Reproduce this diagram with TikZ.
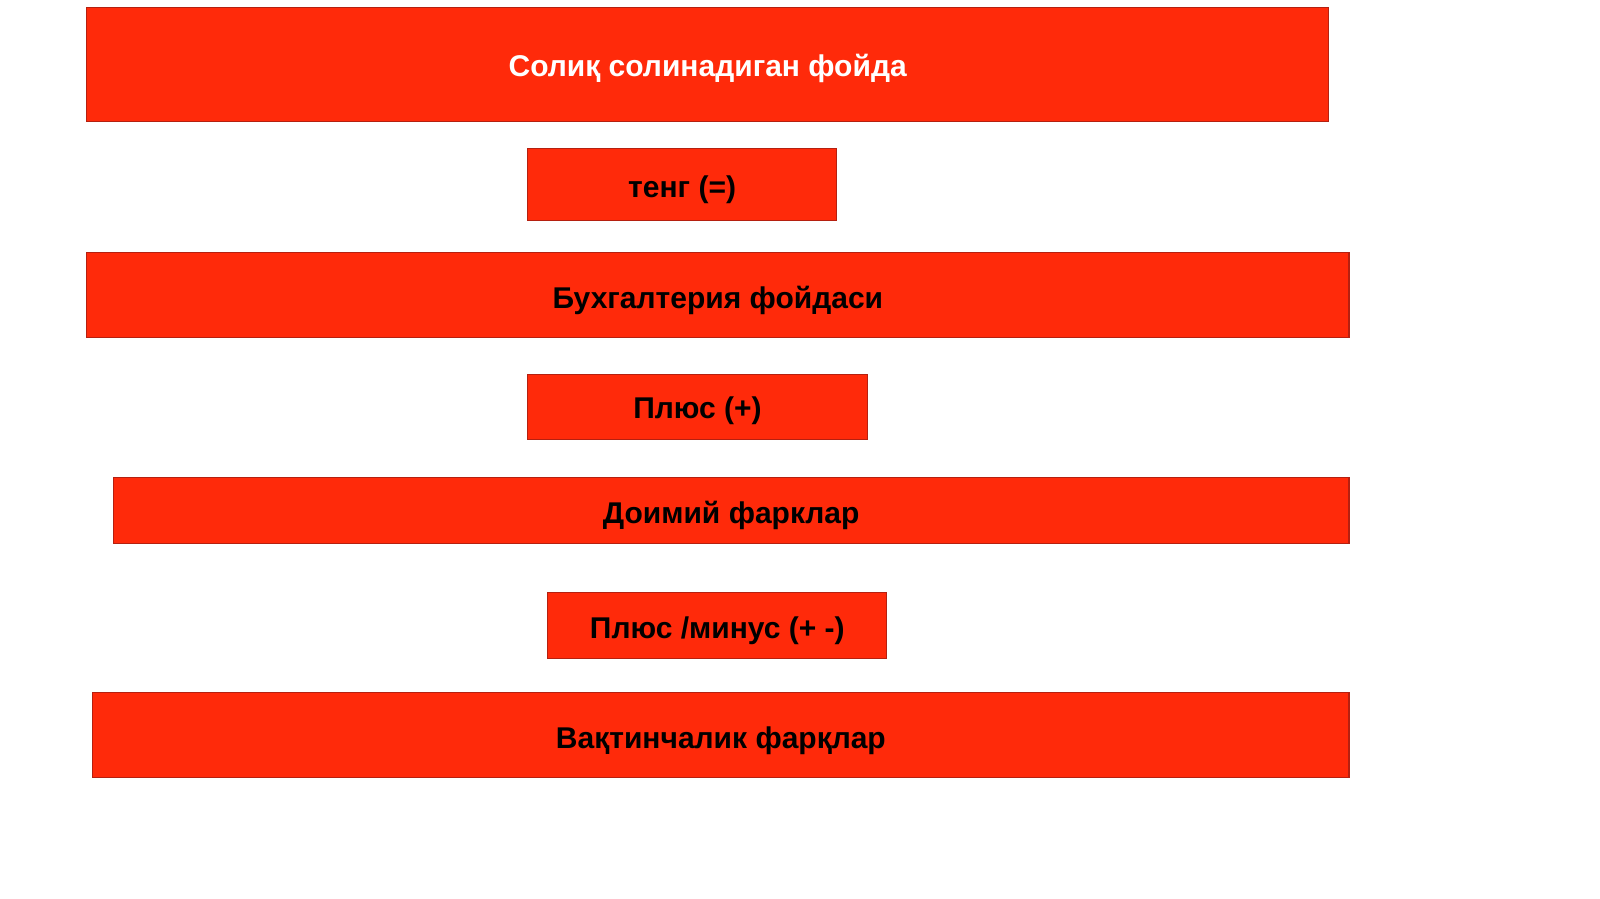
\documentclass[tikz,border=0pt]{standalone}
\usepackage{fontspec}
\setmainfont{Liberation Sans}
\definecolor{boxred}{HTML}{FF2A0A}
\definecolor{boxedge}{HTML}{B52010}
\begin{document}
\begin{tikzpicture}[x=0.5pt,y=-0.5pt,
  bar/.style={fill=boxred,draw=boxedge,line width=0.5pt,inner sep=0pt},
  lbl/.style={font=\fontsize{14.7pt}{17pt}\selectfont\bfseries,inner sep=0pt,text=black},
]
\useasboundingbox[fill=white] (0,0) rectangle (1568,881);
\newcommand{\barnode}[5]{%
  \node[bar,minimum width={(#3-#1)*0.5pt},minimum height={(#4-#2)*0.5pt}]
    (#5) at ({(#1+#3)/2},{(#2+#4)/2}) {};}
\barnode{85}{7}{1302}{119}{b1}
\barnode{517}{146}{820}{216}{b2}
\barnode{85}{247}{1322}{331}{b3}
\barnode{517}{367}{850}{431}{b4}
\barnode{111}{468}{1322}{533}{b5}
\barnode{537}{581}{869}{645}{b6}
\barnode{91}{679}{1322}{762}{b7}
\node[lbl,text=white] (t1) at ([yshift=-2pt]b1.center) {Солиқ солинадиган фойда};
\node[lbl] (t2) at ([yshift=-2.5pt]b2.center) {тенг (=)};
\node[lbl] (t3) at ([yshift=-2.5pt]b3.center) {Бухгалтерия фойдаси};
\node[lbl] (t4) at ([yshift=-2pt]b4.center) {Плюс (+)};
\node[lbl] (t5) at ([yshift=-2.5pt]b5.center) {Доимий фарклар};
\node[lbl] (t6) at ([yshift=-2.5pt]b6.center) {Плюс /минус (+ -)};
\node[lbl] (t7) at ([yshift=-2.5pt]b7.center) {Вақтинчалик фарқлар};
\end{tikzpicture}
\end{document}
